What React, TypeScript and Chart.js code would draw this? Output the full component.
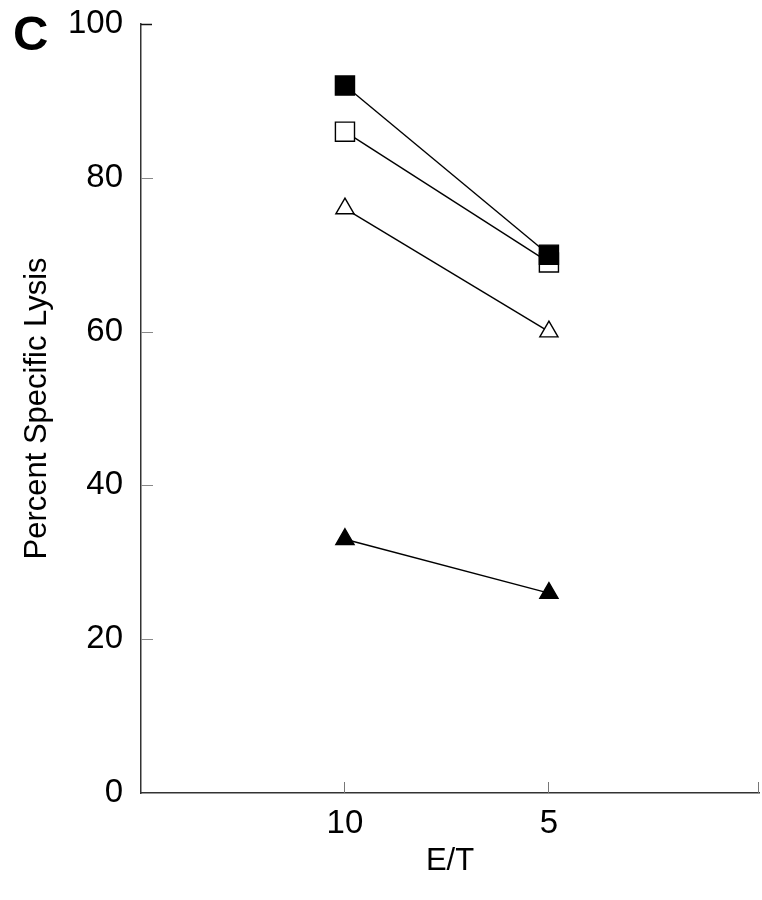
import React, { useEffect, useRef } from "react";
import { Chart, registerables } from "chart.js";

Chart.register(...registerables);

const xPositions = [1, 2];
const xTickLabels = ["10", "5"];
const xAxisMax = 3.03;
const filledSquare = [92, 70];
const openSquare = [86, 69];
const openTriangle = [76, 60];
const filledTriangle = [33, 26];
const yTicks = [0, 20, 40, 60, 80, 100];

const FONT = "'Liberation Sans', Arial, Helvetica, sans-serif";

const toPoints = (vals: number[]) => vals.map((v, i) => ({ x: xPositions[i], y: v }));

const decorPlugin = {
  id: "decor",
  afterDraw(chart: any) {
    const { ctx, scales } = chart;
    const x = scales.x;
    const y = scales.y;
    ctx.save();
    for (const t of yTicks) {
      if (t === 0) continue;
      const py = Math.round(y.getPixelForValue(t)) + 0.5;
      ctx.beginPath();
      ctx.strokeStyle = t === 100 ? "#111" : "#888";
      ctx.lineWidth = t === 100 ? 1.5 : 1;
      ctx.moveTo(x.left, py);
      ctx.lineTo(x.left + (t === 100 ? 11 : 12), py);
      ctx.stroke();
    }
    for (const v of [...xPositions, xAxisMax]) {
      const px = Math.round(x.getPixelForValue(v)) - 0.5;
      ctx.beginPath();
      ctx.strokeStyle = "#777";
      ctx.lineWidth = 1;
      ctx.moveTo(px, y.bottom);
      ctx.lineTo(px, y.bottom - 11);
      ctx.stroke();
    }
    ctx.fillStyle = "#000";
    ctx.font = `bold 49px ${FONT}`;
    ctx.textBaseline = "alphabetic";
    ctx.textAlign = "left";
    ctx.fillText("C", 13, 50);
    ctx.restore();
  },
};

export default function App() {
  const ref = useRef<HTMLCanvasElement | null>(null);
  useEffect(() => {
    if (!ref.current) return;
    const common = { borderColor: "#000", borderWidth: 1.4, pointBorderWidth: 1.4, showLine: true, fill: false, tension: 0, clip: false };
    const chart = new Chart(ref.current, {
      type: "scatter",
      data: {
        datasets: [
          { ...common, data: toPoints(filledSquare), pointStyle: "rect", pointRadius: 13.5, pointBackgroundColor: "#000", pointBorderColor: "#000" },
          { ...common, data: toPoints(openSquare), pointStyle: "rect", pointRadius: 13.5, pointBackgroundColor: "#fff", pointBorderColor: "#000" },
          { ...common, data: toPoints(openTriangle), pointStyle: "triangle", pointRadius: 10.5, pointBackgroundColor: "#fff", pointBorderColor: "#000" },
          { ...common, data: toPoints(filledTriangle), pointStyle: "triangle", pointRadius: 10.5, pointBackgroundColor: "#000", pointBorderColor: "#000" },
        ] as any,
      },
      options: {
        animation: false,
        responsive: false,
        maintainAspectRatio: false,
        layout: { autoPadding: false, padding: { left: 0, top: 24, right: 3, bottom: 0 } },
        plugins: { legend: { display: false }, tooltip: { enabled: false } },
        scales: {
          x: {
            type: "linear",
            min: 0,
            max: xAxisMax,
            afterBuildTicks: (s: any) => {
              s.ticks = xPositions.map((v) => ({ value: v }));
            },
            afterFit: (s: any) => {
              s.height = 107;
              s.paddingLeft = 0;
              s.paddingRight = 0;
            },
            ticks: {
              autoSkip: false,
              maxRotation: 0,
              padding: 11,
              color: "#000",
              font: { family: FONT, size: 33 },
              callback: (v: any) => {
                const i = xPositions.indexOf(Number(v));
                return i >= 0 ? xTickLabels[i] : "";
              },
            },
            grid: { display: false, drawTicks: false },
            border: { display: true, color: "#333", width: 1.5 },
            title: { display: true, text: "E/T", color: "#000", font: { family: FONT, size: 31 }, padding: { top: 0, bottom: 20 } },
          },
          y: {
            type: "linear",
            min: 0,
            max: 100,
            afterBuildTicks: (s: any) => {
              s.ticks = yTicks.map((v) => ({ value: v }));
            },
            afterFit: (s: any) => {
              s.width = 141;
              s.paddingTop = 0;
              s.paddingBottom = 0;
            },
            ticks: { padding: 18, color: "#000", font: { family: FONT, size: 33 } },
            grid: { display: false, drawTicks: false },
            border: { display: true, color: "#333", width: 1.5 },
            title: { display: true, text: "Percent Specific Lysis", color: "#000", font: { family: FONT, size: 31 }, padding: { top: 19, bottom: 0 } },
          },
        },
      },
      plugins: [decorPlugin],
    } as any);
    return () => chart.destroy();
  }, []);
  return (
    <div style={{ position: "absolute", left: 0, top: 0, width: 762, height: 900, background: "#fff" }}>
      <canvas ref={ref} width={762} height={900} style={{ display: "block" }} />
    </div>
  );
}
